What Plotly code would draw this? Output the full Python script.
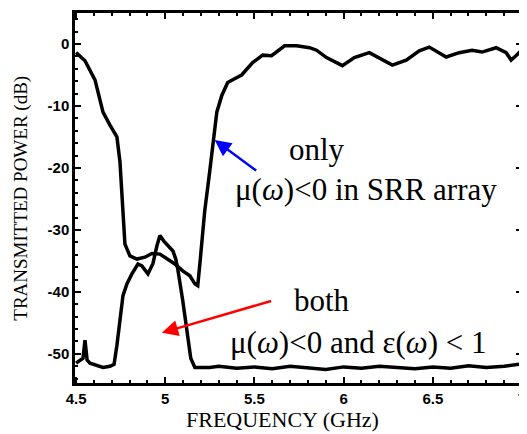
import plotly.graph_objects as go

# Curve 1: only mu(w)<0 in SRR array
freq_srr = [4.500, 4.550, 4.606, 4.651, 4.690, 4.729, 4.746, 4.763, 4.774, 4.802,
            4.841, 4.886, 4.925, 4.970, 5.009, 5.054, 5.098, 5.138, 5.166, 5.182,
            5.194, 5.210, 5.221, 5.249, 5.266, 5.289, 5.317, 5.350, 5.389, 5.428,
            5.490, 5.546, 5.596, 5.669, 5.736, 5.809, 5.848, 5.904, 5.993, 6.060,
            6.144, 6.200, 6.273, 6.351, 6.424, 6.480, 6.575, 6.648, 6.720, 6.776,
            6.855, 6.911, 6.939, 6.966, 6.994]
power_srr = [-1.4, -2.7, -5.8, -11.0, -13.1, -15.0, -19.0, -28.2, -32.3, -34.2,
             -34.7, -34.4, -33.8, -33.9, -34.6, -35.5, -36.6, -37.4, -38.7, -39.0,
             -35.5, -31.0, -27.0, -20.6, -16.6, -11.0, -8.3, -6.2, -5.6, -5.0,
             -3.0, -1.8, -1.9, -0.3, -0.3, -0.6, -1.0, -2.2, -3.5, -2.2,
             -1.4, -2.2, -3.4, -2.6, -1.1, -0.5, -2.1, -1.4, -1.0, -1.3,
             -0.6, -1.4, -2.6, -1.9, -1.1]

# Curve 2: both mu(w)<0 and eps(w)<1
freq_both = [4.500, 4.522, 4.539, 4.550, 4.562, 4.578, 4.606, 4.651, 4.690, 4.713,
             4.729, 4.746, 4.763, 4.785, 4.813, 4.847, 4.869, 4.903, 4.931, 4.953,
             4.970, 4.992, 5.015, 5.043, 5.059, 5.070, 5.098, 5.121, 5.143, 5.166,
             5.249, 5.300, 5.400, 5.500, 5.600, 5.700, 5.800, 5.900, 6.000, 6.100,
             6.200, 6.300, 6.400, 6.500, 6.600, 6.700, 6.800, 6.900, 7.000]
power_both = [-51.5, -51.0, -50.7, -47.8, -51.0, -51.5, -51.8, -52.2, -52.0, -51.7,
              -48.6, -44.2, -40.6, -38.7, -37.1, -35.5, -35.8, -37.1, -35.4, -32.6,
              -30.9, -31.8, -32.6, -33.4, -34.7, -36.3, -41.4, -46.7, -50.7, -52.2,
              -52.2, -52.0, -52.3, -52.1, -52.4, -52.0, -52.2, -52.5, -52.1, -52.3,
              -52.0, -52.2, -52.4, -52.1, -52.3, -51.9, -52.2, -52.0, -51.6]

x_tickvals = [4.5, 5, 5.5, 6, 6.5, 7]
x_ticktext = ["4.5", "5", "5.5", "6", "6.5", "7"]
y_tickvals = [0, -10, -20, -30, -40, -50]
y_ticktext = ["0", "-10", "-20", "-30", "-40", "-50"]

fig = go.Figure()
fig.add_trace(go.Scatter(x=freq_srr, y=power_srr, mode="lines",
                         line=dict(color="black", width=3.5), showlegend=False))
fig.add_trace(go.Scatter(x=freq_both, y=power_both, mode="lines",
                         line=dict(color="black", width=3.5), showlegend=False))

tickfont = dict(family="Liberation Sans, Arial", size=15, color="black", weight=700)
axis_common = dict(showline=True, linecolor="black", linewidth=2.5, mirror="allticks",
                   ticks="inside", ticklen=6, tickwidth=1.5, tickcolor="black",
                   showgrid=False, zeroline=False, tickfont=tickfont)

fig.update_xaxes(range=[4.494, 7.0], tickvals=x_tickvals, ticktext=x_ticktext,
                 minor=dict(dtick=0.1, ticks="inside", ticklen=3, tickcolor="black"),
                 **axis_common)
fig.update_yaxes(range=[-54.7, 5.0], tickvals=y_tickvals, ticktext=y_ticktext,
                 minor=dict(dtick=2, ticks="inside", ticklen=3, tickcolor="black"),
                 **axis_common)

serif = "Liberation Serif, Times New Roman, serif"
txt = dict(family=serif, size=31, color="black")
# the page body has an 8px margin, so the figure is sized to fit the window
fig.update_layout(
    width=519, height=426,
    margin=dict(l=67, r=4, t=2, b=51),
    paper_bgcolor="white", plot_bgcolor="white",
    annotations=[
        dict(text="TRANSMITTED POWER (dB)", xref="paper", yref="paper",
             x=-0.12, y=0.499, xanchor="center", yanchor="middle", textangle=-90,
             showarrow=False, font=dict(family=serif, size=19, color="black")),
        dict(text="FREQUENCY (GHz)", xref="paper", yref="paper",
             x=0.464, y=-0.099, xanchor="center", yanchor="middle",
             showarrow=False, font=dict(family=serif, size=22, color="black")),
        dict(text="only", x=5.853, y=-17.1, xref="x", yref="y",
             showarrow=False, font=txt),
        dict(text="μ(<i>ω</i>)<0 in SRR array", x=6.127, y=-23.5, xref="x", yref="y",
             showarrow=False, font=txt),
        dict(text="both", x=5.881, y=-41.4, xref="x", yref="y",
             showarrow=False, font=txt),
        dict(text="μ(<i>ω</i>)<0 and ε(<i>ω</i>) < 1", x=6.083, y=-48.2, xref="x", yref="y",
             showarrow=False, font=txt),
        dict(text="", x=5.277, y=-15.5, ax=5.518, ay=-20.6, xref="x", yref="y",
             axref="x", ayref="y", showarrow=True, arrowhead=2, arrowsize=1.3,
             arrowwidth=2.5, arrowcolor="blue"),
        dict(text="", x=4.981, y=-46.6, ax=5.602, ay=-41.4, xref="x", yref="y",
             axref="x", ayref="y", showarrow=True, arrowhead=2, arrowsize=1.3,
             arrowwidth=2.5, arrowcolor="red"),
    ],
)

fig.write_html("out.html")
